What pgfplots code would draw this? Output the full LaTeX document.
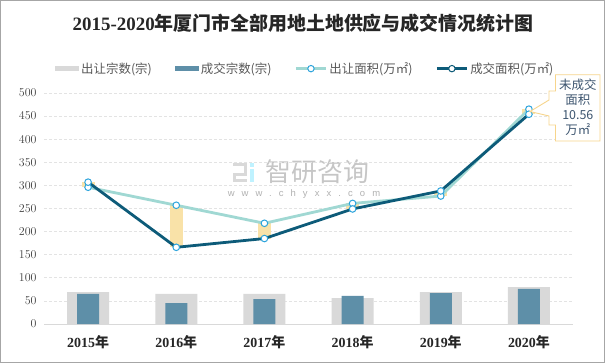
\documentclass[border=0pt]{standalone}
\usepackage{pgfplots}
\pgfplotsset{compat=1.18}
\usepackage{fontspec}
\setmainfont{Noto Sans CJK SC}
\newfontfamily\cjk{Noto Sans CJK SC}
\newfontfamily\carlito{Carlito}
\newfontfamily\lsans{Liberation Sans}
\newfontfamily\lserif{Liberation Serif}
\definecolor{barGrey}{HTML}{D9D9D9}
\definecolor{barBlue}{HTML}{5E8FA8}
\definecolor{lightLine}{HTML}{A0D8D3}
\definecolor{darkLine}{HTML}{0D5B79}
\definecolor{markBlue}{HTML}{2DA4DC}
\definecolor{upBar}{HTML}{F9E2A8}
\definecolor{legendGray}{HTML}{595959}
\definecolor{tickGray}{HTML}{404040}
\definecolor{gridGray}{HTML}{E3E3E3}
\definecolor{axisGray}{HTML}{D9D9D9}
\definecolor{calloutBorder}{HTML}{F7D58C}
\definecolor{calloutText}{HTML}{3E5670}
\definecolor{frameGray}{HTML}{A6A6A6}
\newcommand{\yr}[1]{{\lserif\bfseries #1}{\cjk\bfseries 年}}
\begin{document}
\begin{tikzpicture}[x=1bp,y=1bp]
\useasboundingbox (0,0) rectangle (605,363);
\fill[white] (0,0) rectangle (605,363);
\draw[frameGray, line width=1.2bp] (0.6,0.6) rectangle (604.4,362.4);
% title
\node[font=\fontsize{19}{21}\selectfont, text=black!85] at (303,340) {{\lserif\bfseries 2015-2020}{\cjk\bfseries 年厦门市全部用地土地供应与成交情况统计图}};
% watermark
\fill[gray!30] (233,197) rectangle (247,200);
\fill[gray!30] (244,187) rectangle (247,197);
\fill[gray!30] (233,187) rectangle (244,190);
\fill[gray!30] (233,181) rectangle (236,187);
\fill[gray!30] (236,181) rectangle (247,184);
\fill[blue!20!cyan!25] (250,181) rectangle (254,194);
\fill[blue!20!cyan!25] (250,196.5) rectangle (254,200);
\node[font=\cjk\fontsize{26}{28}\selectfont, text=gray!45, inner sep=0] at (317.5,191) {智研咨询};
\node[font=\lsans\addfontfeature{LetterSpace=75}\fontsize{9.5}{11}\selectfont, text=gray!60, inner sep=0] at (304,169) {www.chyxx.com};
\begin{axis}[
  at={(44bp,39bp)}, anchor=south west, scale only axis,
  width=529bp, height=231bp,
  xmin=-0.5, xmax=5.5, ymin=0, ymax=500,
  axis x line*=bottom, axis y line*=left,
  x axis line style={draw=axisGray, line width=1bp, -},
  y axis line style={draw=none},
  xtick={0,1,2,3,4,5},
  xticklabels={\yr{2015},\yr{2016},\yr{2017},\yr{2018},\yr{2019},\yr{2020}},
  ytick={0,50,...,500},
  major tick length=0pt,
  ymajorgrids,
  grid style={gridGray, dash pattern=on 3bp off 2bp, line width=0.7bp},
  yticklabel style={font=\carlito\fontsize{11.5}{12}\selectfont, text=tickGray, xshift=-4bp},
  xticklabel style={font=\fontsize{14}{16}\selectfont, text=black!85, yshift=-8bp},
  legend style={at={(0.494,1)}, anchor=south, yshift=14bp, draw=none, fill=none,
    legend columns=4, font=\cjk\fontsize{12.5}{14}\selectfont, text=legendGray,
    /tikz/every even column/.append style={column sep=21bp}},
  legend cell align=left,
  clip=false,
]
\addplot[ybar, bar width=42bp, bar shift=0pt, fill=barGrey, draw=none,
  legend image code/.code={\fill[barGrey] (0bp,-2.8bp) rectangle (24bp,2.8bp);}]
  coordinates {(0,69) (1,65) (2,65) (3,56) (4,69) (5,80)};
\addlegendentry{出让宗数(宗)}
\addplot[ybar, bar width=22bp, bar shift=0pt, fill=barBlue, draw=none,
  legend image code/.code={\fill[barBlue] (0bp,-2.8bp) rectangle (24bp,2.8bp);}]
  coordinates {(0,65) (1,45) (2,54) (3,61) (4,67) (5,76)};
\addlegendentry{成交宗数(宗)}
\addplot[upBar, line width=13bp, forget plot] coordinates {(0,296) (0,307)};
\addplot[upBar, line width=13bp, forget plot] coordinates {(1,257) (1,166)};
\addplot[upBar, line width=13bp, forget plot] coordinates {(2,218) (2,185)};
\addplot[upBar, line width=13bp, forget plot] coordinates {(3,261) (3,249)};
\addplot[upBar, line width=13bp, forget plot] coordinates {(4,277) (4,288)};
\addplot[upBar, line width=13bp, forget plot] coordinates {(5,465) (5,454)};
\addplot[lightLine, line width=2.8bp, mark=*, mark size=3.3bp,
  mark options={draw=markBlue, fill=white, line width=1bp},
  legend image code/.code={\draw[lightLine, line width=2.8bp] (0bp,0bp) -- (30bp,0bp);
    \draw[markBlue, fill=white, line width=1bp] (15bp,0bp) circle (3.2bp);}]
  coordinates {(0,296) (1,257) (2,218) (3,261) (4,277) (5,465)};
\addlegendentry{出让面积(万㎡)}
\addplot[darkLine, line width=2.8bp, mark=*, mark size=3.3bp,
  mark options={draw=markBlue, fill=white, line width=1bp},
  legend image code/.code={\draw[darkLine, line width=2.8bp] (0bp,0bp) -- (30bp,0bp);
    \draw[darkLine, fill=white, line width=1bp] (15bp,0bp) circle (3.2bp);}]
  coordinates {(0,307) (1,166) (2,185) (3,249) (4,288) (5,454)};
\addlegendentry{成交面积(万㎡)}
\end{axis}
% callout
\draw[calloutBorder, line width=0.9bp, fill=white]
  (600,288.3) -- (555.5,288.3) -- (555.5,272) -- (549,272) -- (549,263) -- (530,251.5)
  -- (549,247) -- (549,238) -- (555.5,238) -- (555.5,222) -- (600,222) -- cycle;
\node[font=\cjk\fontsize{12.5}{15}\selectfont, text=calloutText, align=center, inner sep=0] at (577.8,255.5)
  {未成交\\面积\\10.56\\万㎡};
\end{tikzpicture}
\end{document}
